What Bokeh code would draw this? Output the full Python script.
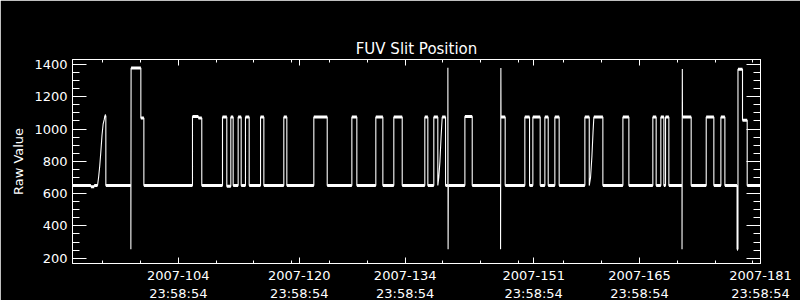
from bokeh.plotting import figure
from bokeh.models import LinearAxis, FixedTicker, Range1d
from bokeh.embed import file_html
from bokeh.resources import INLINE

# Time axis: days since 2007-01-01 00:00 (so DOY d at hh:mm:ss -> d - 1 + frac)
time_days = [
    90.00, 92.43, 92.43, 92.87, 92.87, 93.31, 93.45, 93.60, 93.75, 93.90, 94.05, 94.20, 94.28, 94.41, 94.41,
    97.72, 97.72, 97.75, 99.04, 99.04, 99.44, 99.44,
    105.87, 105.87, 106.65, 106.65, 107.10, 107.10,
    109.84, 109.84, 110.41, 110.41, 110.94, 110.94, 111.25, 111.25,
    111.91, 111.91, 112.31, 112.31, 112.88, 112.88, 113.37, 113.37,
    114.87, 114.87, 115.31, 115.31,
    117.95, 117.95, 118.35, 118.35,
    121.92, 121.92, 123.69, 123.69,
    126.95, 126.95, 127.61, 127.61,
    130.12, 130.12, 131.05, 131.05,
    132.50, 132.50, 133.61, 133.61,
    136.60, 136.60, 137.00, 137.00,
    137.79, 137.79, 138.32, 138.32, 138.45, 138.60, 138.75, 138.90, 139.34, 139.34,
    139.65, 139.65, 139.68, 139.71,
    141.90, 141.90, 142.87, 142.87,
    146.62, 146.62, 146.66, 146.68, 147.23, 147.23,
    149.83, 149.83, 150.45, 150.45,
    150.89, 150.89, 151.86, 151.86,
    152.48, 152.48, 152.92, 152.92,
    153.80, 153.80, 154.37, 154.37,
    157.77, 157.77, 158.35, 158.35, 158.52, 158.70, 158.85, 158.96, 160.15, 160.15,
    162.80, 162.80, 163.59, 163.59,
    166.76, 166.76, 167.20, 167.20,
    167.82, 167.82, 168.22, 168.22,
    168.44, 168.44, 168.88, 168.88,
    170.62, 170.62, 170.66, 170.68, 171.83, 171.83,
    173.82, 173.82, 174.83, 174.83,
    175.76, 175.76, 176.29, 176.29,
    177.90, 177.90, 178.02, 178.02, 178.62, 178.62, 179.24, 179.24,
    181.00,
]
raw_value = [
    650, 650, 643, 643, 650, 650, 700, 770, 860, 960, 1030, 1060, 1082, 1082, 650,
    650, 255, 1378, 1378, 1068, 1068, 650,
    650, 1078, 1078, 1068, 1068, 650,
    650, 1075, 1075, 645, 645, 1075, 1075, 650,
    650, 1075, 1075, 650, 650, 1075, 1075, 650,
    650, 1075, 1075, 650,
    650, 1075, 1075, 650,
    650, 1075, 1075, 650,
    650, 1075, 1075, 650,
    650, 1075, 1075, 650,
    650, 1075, 1075, 650,
    650, 1075, 1075, 650,
    650, 1075, 1075, 650, 700, 800, 950, 1075, 1075, 650,
    650, 1380, 255, 650,
    650, 1078, 1078, 650,
    650, 255, 1378, 1075, 1075, 650,
    650, 1075, 1075, 650,
    650, 1075, 1075, 650,
    650, 1075, 1075, 650,
    650, 1075, 1075, 650,
    650, 1075, 1075, 650, 700, 830, 980, 1075, 1075, 650,
    650, 1075, 1075, 650,
    650, 1075, 1075, 650,
    650, 1075, 1075, 650,
    650, 1075, 1075, 650,
    650, 255, 1372, 1075, 1075, 650,
    650, 1075, 1075, 650,
    650, 1075, 1075, 650,
    650, 255, 255, 1370, 1370, 1055, 1055, 650,
    650,
]

y_major_ticks = [200, 400, 600, 800, 1000, 1200, 1400]
y_minor_ticks = [250, 300, 350, 450, 500, 550, 650, 700, 750, 850, 900, 950,
                 1050, 1100, 1150, 1250, 1300, 1350]
x_tick_doy = [104, 120, 134, 151, 165, 181]
x_tick_clock = "23:58:54"
x_minor_doy = [95, 100, 110, 115, 120, 125, 130, 140, 145, 150, 156, 161, 171, 176, 181]

day_frac = (23 * 3600 + 58 * 60 + 54) / 86400.0
x_major = [d - 1 + day_frac for d in x_tick_doy]
x_minor = [d - 1 + 0.0 for d in x_minor_doy]
x_labels = {x: "2007-%03d\n%s" % (d, x_tick_clock) for x, d in zip(x_major, x_tick_doy)}

FONT = "DejaVu Sans"
WHITE = "white"

p = figure(frame_width=688, frame_height=204, output_backend="svg", toolbar_location=None,
           x_range=Range1d(90.0, 181.0), y_range=Range1d(167, 1431),
           background_fill_color="black", border_fill_color="black",
           min_border_left=72, min_border_right=40, min_border_top=59, min_border_bottom=37,
           title="FUV Slit Position")
p.outline_line_color = WHITE
p.outline_line_width = 1
p.grid.visible = False

p.title.align = "center"
p.title.text_color = WHITE
p.title.text_font = FONT
p.title.text_font_size = "15px"
p.title.text_font_style = "normal"
p.title.standoff = 4


def style_axis(ax, major_len, minor_len):
    ax.axis_line_color = WHITE
    ax.major_tick_line_color = WHITE
    ax.minor_tick_line_color = WHITE
    ax.major_tick_in = major_len
    ax.major_tick_out = 0
    ax.minor_tick_in = minor_len
    ax.minor_tick_out = 0
    ax.major_label_text_color = WHITE
    ax.major_label_text_font = FONT
    ax.major_label_text_font_size = "13px"
    ax.axis_label_text_color = WHITE
    ax.axis_label_text_font = FONT
    ax.axis_label_text_font_size = "13px"
    ax.axis_label_text_font_style = "normal"


xt = FixedTicker(ticks=x_major, minor_ticks=x_minor)
yt = FixedTicker(ticks=y_major_ticks, minor_ticks=y_minor_ticks)

xa = p.xaxis[0]
xa.ticker = xt
xa.major_label_overrides = x_labels
xa.major_label_standoff = 4
style_axis(xa, 6, 3)

ya = p.yaxis[0]
ya.ticker = yt
ya.axis_label = "Raw Value"
ya.axis_label_standoff = 5
ya.major_label_standoff = 5
style_axis(ya, 14, 7)

top = LinearAxis(ticker=FixedTicker(ticks=x_major, minor_ticks=x_minor),
                 major_label_overrides={x: "" for x in x_major})
style_axis(top, 6, 3)
top.major_label_standoff = 0
p.add_layout(top, "above")

right = LinearAxis(ticker=FixedTicker(ticks=y_major_ticks, minor_ticks=y_minor_ticks),
                   major_label_overrides={y: "" for y in y_major_ticks})
style_axis(right, 14, 7)
right.major_label_standoff = 0
p.add_layout(right, "right")

# thin trace
p.line(time_days, raw_value, line_color=WHITE, line_width=1.1)

# thicker plateaus (data noise band)
x0, x1, yv = [], [], []
for i in range(len(time_days) - 1):
    if raw_value[i] == raw_value[i + 1] and time_days[i + 1] > time_days[i]:
        x0.append(time_days[i]); x1.append(time_days[i + 1]); yv.append(raw_value[i])
p.segment(x0=x0, y0=yv, x1=x1, y1=yv, line_color=WHITE, line_width=3)

open("out.html", "w").write(file_html(p, INLINE))
